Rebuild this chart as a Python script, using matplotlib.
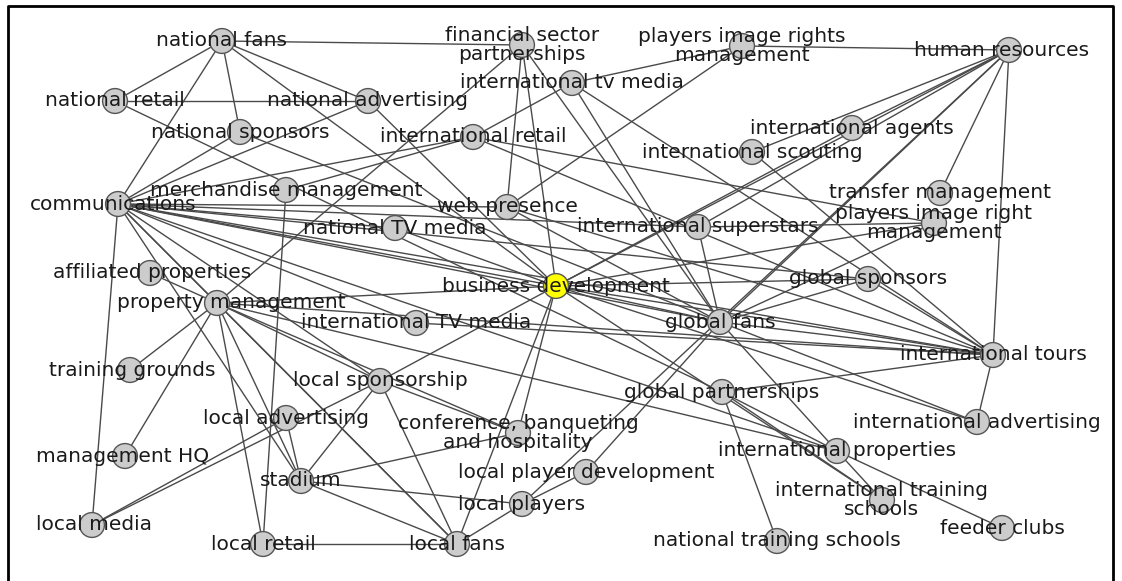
import matplotlib
matplotlib.use("Agg")
import matplotlib.pyplot as plt

# node labels and layout positions (pixel-like layout coords)
labels = [
    "national fans", "financial sector\npartnerships", "players image rights\nmanagement",
    "human resources", "international tv media", "national retail", "national advertising",
    "national sponsors", "international retail", "international agents",
    "international scouting", "merchandise management", "communications", "web presence",
    "transfer management", "international superstars", "national TV media",
    "players image right\nmanagement", "affiliated properties", "business development",
    "global sponsors", "property management", "international TV media", "global fans",
    "international tours", "training grounds", "local sponsorship", "global partnerships",
    "local advertising", "international advertising", "conference, banqueting\nand hospitality",
    "management HQ", "international properties", "local player development", "stadium",
    "international training\nschools", "local players", "feeder clubs", "local media",
    "local retail", "local fans", "national training schools",
]
keys = ["NF", "FSP", "PIRM", "HR", "ITVM", "NR", "NA", "NS", "IR", "IA", "IS", "MM", "COM",
        "WP", "TM", "ISUP", "NTV", "PIRM2", "AP", "BD", "GS", "PM", "ITV", "GF", "IT", "TG",
        "LS", "GP", "LA", "IADV", "CBH", "MHQ", "IP", "LPD", "ST", "ITS", "LP", "FC", "LM",
        "LR", "LF", "NTS"]
xs = [222, 522, 742, 1009, 572, 115, 368, 240, 473, 852, 752, 286, 118, 507, 940, 698, 395,
      934, 150, 556, 868, 217, 416, 720, 993, 130, 380, 722, 286, 977, 518, 125, 837, 586,
      301, 882, 522, 1002, 92, 263, 457, 777]
ys = [41, 45, 46, 50, 83, 101, 101, 132, 137, 128, 152, 190, 204, 207, 193, 227, 228, 223,
      273, 286, 279, 303, 323, 322, 355, 370, 381, 392, 418, 422, 433, 456, 451, 472, 481,
      500, 504, 528, 525, 544, 544, 541]
# label centre offsets where the label is not centred on its node
lab_dx = {"PM": 14, "COM": -5, "AP": 2, "TG": 2, "MHQ": -2, "LM": 2, "HR": -7}

edges = [
    ("NF", "NR"), ("NF", "COM"), ("NF", "NS"), ("NF", "NA"), ("NF", "BD"), ("NF", "FSP"),
    ("NR", "NA"), ("NR", "GP"), ("NS", "COM"), ("NS", "GF"), ("NA", "COM"), ("NA", "BD"),
    ("FSP", "WP"), ("FSP", "BD"), ("FSP", "GF"), ("FSP", "PM"),
    ("PIRM", "HR"), ("PIRM", "ITVM"), ("PIRM", "WP"),
    ("ITVM", "IR"), ("ITVM", "GF"), ("ITVM", "IT"),
    ("IR", "COM"), ("IR", "MM"), ("IR", "IT"), ("IR", "PIRM2"),
    ("HR", "BD"), ("HR", "ISUP"), ("HR", "IS"), ("HR", "IA"), ("HR", "GF"), ("HR", "LP"),
    ("HR", "TM"), ("HR", "IT"), ("IA", "BD"), ("IS", "IT"),
    ("MM", "LR"), ("NTV", "COM"), ("NTV", "BD"),
    ("COM", "WP"), ("COM", "ISUP"), ("COM", "BD"), ("COM", "GS"), ("COM", "GF"),
    ("COM", "IT"), ("COM", "ITV"), ("COM", "IP"), ("COM", "LS"), ("COM", "LF"),
    ("COM", "ST"), ("COM", "PM"), ("COM", "LM"),
    ("WP", "GF"), ("WP", "IT"),
    ("ISUP", "PIRM2"), ("ISUP", "GF"), ("PIRM2", "BD"), ("PIRM2", "GF"),
    ("BD", "GS"), ("BD", "GF"), ("BD", "IT"), ("BD", "IADV"), ("BD", "ITS"), ("BD", "LS"),
    ("BD", "CBH"), ("BD", "LF"), ("BD", "PM"),
    ("GS", "GF"), ("GS", "IT"), ("GF", "IT"), ("GF", "IP"), ("GF", "IADV"), ("GF", "LPD"),
    ("IT", "IADV"), ("IT", "GP"), ("ITV", "IT"),
    ("AP", "PM"), ("PM", "TG"), ("PM", "MHQ"), ("PM", "LR"), ("PM", "ST"), ("PM", "LF"),
    ("PM", "LS"), ("PM", "CBH"), ("PM", "IP"), ("PM", "IT"),
    ("LS", "LM"), ("LS", "ST"), ("LS", "LF"), ("LS", "CBH"),
    ("LA", "LM"), ("LA", "ST"), ("ST", "CBH"), ("ST", "LP"), ("ST", "LF"),
    ("GP", "NTS"), ("GP", "IP"), ("GP", "ITS"), ("IP", "ITS"), ("IP", "FC"),
    ("LP", "LPD"), ("LP", "LF"), ("LR", "LF"),
]

pos = {k: (x, y) for k, x, y in zip(keys, xs, ys)}

fig = plt.figure(figsize=(11.22, 5.81), dpi=100)
ax = fig.add_axes([0, 0, 1, 1])
ax.set_xlim(0, 1122)
ax.set_ylim(581, 0)
ax.axis("off")

# frame (bottom edge is cut off in the original)
ax.plot([8, 8, 1113, 1113], [585, 6, 6, 585], color="black", lw=2, zorder=1)

for a, b in edges:
    ax.plot([pos[a][0], pos[b][0]], [pos[a][1], pos[b][1]],
            color="#4a4a4a", lw=1.0, zorder=2)

colors = ["#ffff00" if k == "BD" else "#cccccc" for k in keys]
ax.scatter(xs, ys, s=320, c=colors, edgecolors="#555555", linewidths=1.0, zorder=3)

for k, lab, x, y in zip(keys, labels, xs, ys):
    ax.text(x + lab_dx.get(k, 0), y, lab, ha="center", va="center", fontsize=14.5,
            color="#1a1a1a", linespacing=0.95, zorder=4)

fig.savefig("out.png", dpi=100)
